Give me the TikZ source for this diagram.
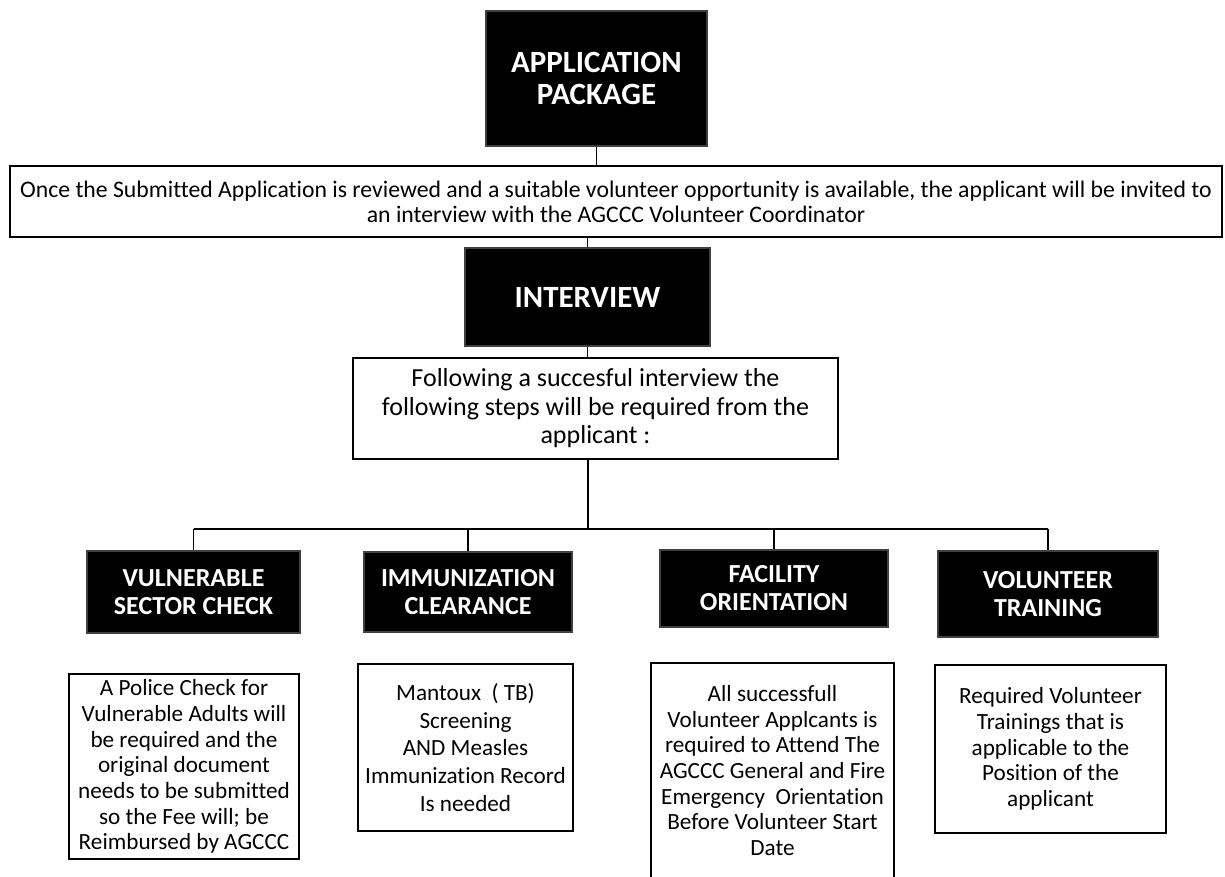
\documentclass[tikz,border=0pt]{standalone}
\usepackage{fontspec}
\setmainfont{Carlito}[Ligatures=NoCommon]

\def\px{0.2mm}
\def\bary{529}

\begin{document}
\begin{tikzpicture}[x=\px,y=-\px,line width=1pt,draw=black]
    \tikzstyle{every node}=[inner sep=0pt, align=center]
    \tikzstyle{dark box}=[rectangle, draw=black!75, line width=0.8pt, fill=black, text=white]
    \tikzstyle{big box}=[dark box, font=\fontsize{17.6}{18.7}\selectfont\bfseries]
    \tikzstyle{stage box}=[dark box, font=\fontsize{14.8}{15.9}\selectfont\bfseries]
    \tikzstyle{note box}=[rectangle, draw=black, line width=1.3pt, fill=white, font=\fontsize{13.2}{14.6}\selectfont]
    \tikzstyle{trunk}=[line width=1.6pt]

    \useasboundingbox (0,0) rectangle (1225,877);

    % Draw the top of the chart
    \node[big box, minimum width=221*\px, minimum height=135*\px] (app) at (596.5,78.5) {APPLICATION\\PACKAGE};
    \node[note box, font=\fontsize{13.5}{14.2}\selectfont, minimum width=1212*\px, minimum height=71*\px] (long) at (616,201.5)
        {Once the Submitted Application is reviewed and a suitable volunteer opportunity is available, the applicant will be invited to\\an interview with the AGCCC Volunteer Coordinator};
    \node[big box, minimum width=245*\px, minimum height=98*\px] (interview) at (587.5,297) {INTERVIEW};
    \node[note box, font=\fontsize{14.8}{16.2}\selectfont, minimum width=485*\px, minimum height=101*\px] (follow) at (595.5,408.5)
        {Following a succesful interview the\\following steps will be required from the\\applicant :};

    % Draw the four steps
    \node[stage box, minimum width=213*\px, minimum height=82*\px] (vul) at (193.5,592) {VULNERABLE\\SECTOR CHECK};
    \node[stage box, minimum width=208*\px, minimum height=80*\px] (imm) at (468,592) {IMMUNIZATION\\CLEARANCE};
    \node[stage box, minimum width=228*\px, minimum height=77*\px] (fac) at (774,588.5) {FACILITY\\ORIENTATION};
    \node[stage box, minimum width=220*\px, minimum height=86*\px] (vol) at (1048,594) {VOLUNTEER\\TRAINING};

    % Draw the notes under each step
    \node[note box, minimum width=230*\px, minimum height=185*\px] (vul-note) at (184,766.5)
        {A Police Check for\\Vulnerable Adults will\\be required and the\\original document\\needs to be submitted\\so the Fee will; be\\Reimbursed by AGCCC};
    \node[note box, font=\fontsize{13.2}{15.7}\selectfont, minimum width=215*\px, minimum height=167*\px] (imm-note) at (465.5,747.5)
        {Mantoux\ \ ( TB)\\Screening\\AND Measles\\Immunization Record\\Is needed};
    \node[note box, minimum width=243*\px, minimum height=227*\px] (fac-note) at (772.5,776.5) {};
    \node (fac-text) at (772.5,770.5) [font=\fontsize{13.2}{14.6}\selectfont]
        {All successfull\\Volunteer Applcants is\\required to Attend The\\AGCCC General and Fire\\Emergency\ \ Orientation\\Before Volunteer Start\\Date};
    \node[note box, minimum width=231*\px, minimum height=168*\px] (vol-note) at (1050.5,749)
        {Required Volunteer\\Trainings that is\\applicable to the\\Position of the\\applicant};

    % Connect the boxes down to the interview
    \draw (app.south) -- (app.south |- long.north);
    \draw (interview.north |- long.south) -- (interview.north);
    \draw (interview.south) -- (interview.south |- follow.north);

    % Split the line to the four steps
    \coordinate (split) at (588,\bary);
    \draw[trunk] (follow.south -| split) -- (split);
    \draw (vul.north |- split) -- (vol.north |- split);
    \draw (vul.north |- split) -- (vul.north);
    \draw (imm.north |- split) -- (imm.north);
    \draw (fac.north |- split) -- (fac.north);
    \draw (vol.north |- split) -- (vol.north);
\end{tikzpicture}
\end{document}
